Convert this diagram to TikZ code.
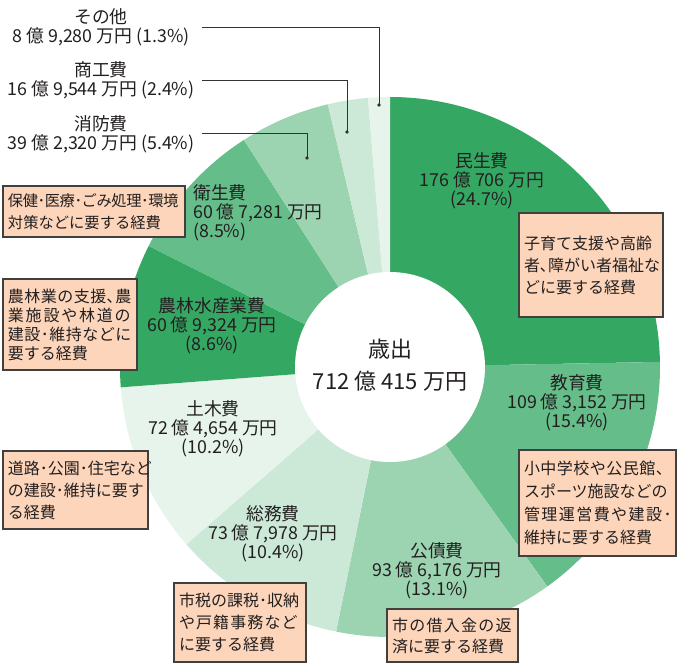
\documentclass[tikz,border=0pt]{standalone}
\usepackage{fontspec}
\setmainfont{Noto Sans CJK JP}
\definecolor{cA}{HTML}{34A763}
\definecolor{cB}{HTML}{65BD89}
\definecolor{cC}{HTML}{9CD4B2}
\definecolor{cD}{HTML}{CCE9D7}
\definecolor{cE}{HTML}{E6F4EB}
\definecolor{boxfill}{HTML}{FCD5BA}
\definecolor{boxline}{HTML}{404040}
\definecolor{txt}{HTML}{231F20}
\definecolor{leader}{HTML}{333333}
\newcommand{\lspc}[2]{{\addfontfeature{LetterSpace=#1}#2}}
\newcommand{\gap}{\hspace{5pt}}
\tikzset{
  lbl/.style={font=\fontsize{17.8}{19}\selectfont, align=center, text=txt, inner sep=0pt},
  infobox/.style={draw=boxline, line width=1.1pt, fill=boxfill, text=txt,
    font=\fontsize{16}{22}\selectfont, align=left, inner xsep=5pt, inner ysep=0pt, anchor=center},
  leadline/.style={draw=leader, line width=0.9pt},
  leaddot/.style={fill=leader},
}
\begin{document}
\begin{tikzpicture}[x=1pt,y=-1pt]
\useasboundingbox (0,0) rectangle (677,664);
\coordinate (C) at (390,367);
% slices (angles clockwise from top = -90)
\fill[cA] (C) -- ++(-90:270) arc[start angle=-90,end angle=-1.08,radius=270] -- cycle;
\fill[cB] (C) -- ++(-1.08:270) arc[start angle=-1.08,end angle=54.36,radius=270] -- cycle;
\fill[cC] (C) -- ++(54.36:270) arc[start angle=54.36,end angle=101.52,radius=270] -- cycle;
\fill[cD] (C) -- ++(101.52:270) arc[start angle=101.52,end angle=138.96,radius=270] -- cycle;
\fill[cE] (C) -- ++(138.96:270) arc[start angle=138.96,end angle=175.68,radius=270] -- cycle;
\fill[cA] (C) -- ++(175.68:270) arc[start angle=175.68,end angle=206.64,radius=270] -- cycle;
\fill[cB] (C) -- ++(206.64:270) arc[start angle=206.64,end angle=237.24,radius=270] -- cycle;
\fill[cC] (C) -- ++(237.24:270) arc[start angle=237.24,end angle=256.68,radius=270] -- cycle;
\fill[cD] (C) -- ++(256.68:270) arc[start angle=256.68,end angle=265.32,radius=270] -- cycle;
\fill[cE] (C) -- ++(265.32:270) arc[start angle=265.32,end angle=270,radius=270] -- cycle;
\fill[white] (C) circle[radius=95];
% centre
\node[lbl, font=\fontsize{22}{32}\selectfont] (total) at (390,365) {歳出\\712\gap 億\gap 415\gap 万円};
% slice labels
\node[lbl] (minsei) at (482,181) {民生費\\176 億 706 万円\\(24.7\%)};
\node[lbl] (kyoiku) at (577,403) {教育費\\109 億 3,152 万円\\(15.4\%)};
\node[lbl] (kosai) at (437,571) {公債費\\93 億 6,176 万円\\(13.1\%)};
\node[lbl] (somu) at (273,534) {総務費\\73 億 7,978 万円\\(10.4\%)};
\node[lbl] (doboku) at (213,429) {土木費\\72 億 4,654 万円\\(10.2\%)};
\node[lbl] (norin) at (212,326) {農林水産業費\\60 億 9,324 万円\\(8.6\%)};
\node[lbl, align=left, anchor=west] (eisei) at (193,213) {衛生費\\60 億 7,281 万円\\(8.5\%)};
\node[lbl] (sonota) at (101,27) {その他\\8 億 9,280 万円 (1.3\%)};
\node[lbl] (shoko) at (101,80) {商工費\\16 億 9,544 万円 (2.4\%)};
\node[lbl] (shobo) at (101,134) {消防費\\39 億 2,320 万円 (5.4\%)};
% leader lines
\coordinate (s1) at (202,27);  \coordinate (d1) at (379,105);
\coordinate (s2) at (202,80);  \coordinate (d2) at (347,132);
\coordinate (s3) at (202,133); \coordinate (d3) at (307,158);
\draw[leadline] (s1) -| (d1);
\draw[leadline] (s2) -| (d2);
\draw[leadline] (s3) -| (d3);
\fill[leaddot] (d1) circle[radius=1.8];
\fill[leaddot] (d2) circle[radius=1.8];
\fill[leaddot] (d3) circle[radius=1.8];
% info boxes
\node[infobox, text width=172pt, minimum height=51pt, font=\fontsize{15.3}{22}\selectfont] (b1) at (94,211.5) {\lspc{-3}{保健･医療･ごみ処理･環境}\\対策などに要する経費};
\node[infobox, text width=134pt, minimum height=104pt] (b2) at (591,265) {子育て支援や高齢\\者､障がい者福祉な\\どに要する経費};
\node[infobox, text width=147pt, minimum height=106pt, font=\fontsize{16}{23}\selectfont] (b3) at (597.5,503) {\lspc{3}{小中学校や公民館、}\\スポーツ施設などの\\\lspc{9}{管理運営費や建設･}\\維持に要する経費};
\node[infobox, text width=121pt, minimum height=53pt, font=\fontsize{16}{21}\selectfont] (b4) at (452.5,635.5) {\lspc{8}{市の借入金の返}\\済に要する経費};
\node[infobox, text width=124pt, minimum height=91pt, font=\fontsize{16}{19}\selectfont] (b5) at (70,324.5) {\lspc{3}{農林業の支援､農}\\\lspc{11}{業施設や林道の}\\\lspc{3}{建設･維持などに}\\要する経費};
\node[infobox, text width=135pt, minimum height=78pt] (b6) at (75.5,490) {道路･公園･住宅など\\の建設･維持に要す\\る経費};
\node[infobox, text width=122pt, minimum height=79pt] (b7) at (240,622.5) {市税の課税･収納\\\lspc{7}{や戸籍事務など}\\に要する経費};
\end{tikzpicture}
\end{document}
